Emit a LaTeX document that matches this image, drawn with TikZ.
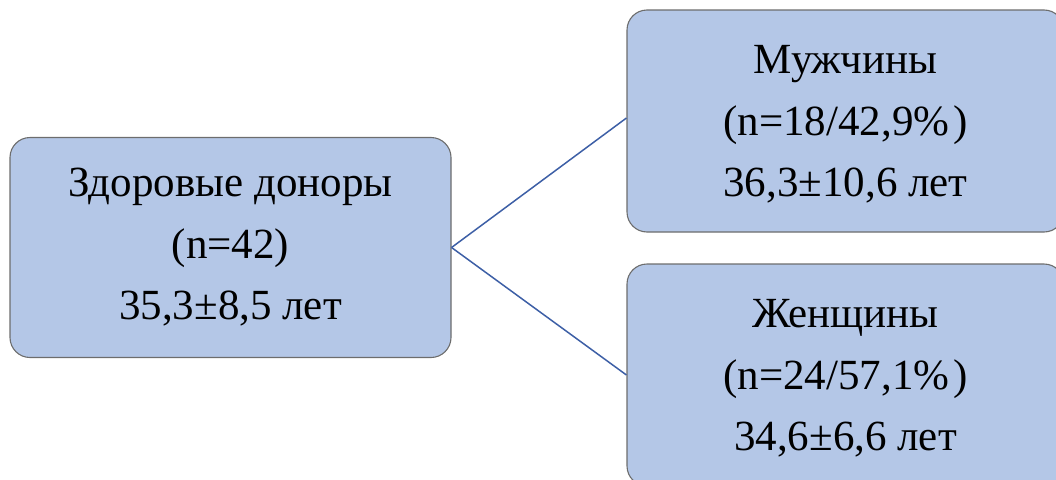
\documentclass[tikz,border=0pt]{standalone}
\usepackage{fontspec}
\setmainfont{Liberation Serif}
\definecolor{boxfill}{HTML}{B4C7E7}
\definecolor{boxline}{HTML}{6D6D6D}
\definecolor{connc}{HTML}{3D5FA6}
\begin{document}
\begin{tikzpicture}[x=1pt,y=-1pt,
  box/.style={draw=boxline, fill=boxfill, line width=1.1pt, rounded corners=20pt,
    align=center, font=\fontsize{43}{61.5}\selectfont, inner sep=0pt},
  conn/.style={draw=connc, line width=1.5pt}]
\useasboundingbox (0,0) rectangle (1056,479);
\node[box, minimum width=441pt, minimum height=220pt] (donors) at (230.5,247.5)
  {Здоровые доноры\\(n=42)\\35,3±8,5 лет};
\node[box, minimum width=437pt, minimum height=222pt] (men) at (845.5,121)
  {\rule{0pt}{35pt}Мужчины\\(n=18/42,9\%\kern4pt)\\36,3±10,6 лет};
\node[box, minimum width=437pt, minimum height=222pt] (women) at (845.5,375)
  {\rule{0pt}{35pt}Женщины\\(n=24/57,1\%\kern4pt)\\34,6±6,6 лет};
\draw[conn] (donors.east) -- ([yshift=3pt]men.west);
\draw[conn] (donors.east) -- (women.west);
\end{tikzpicture}
\end{document}
